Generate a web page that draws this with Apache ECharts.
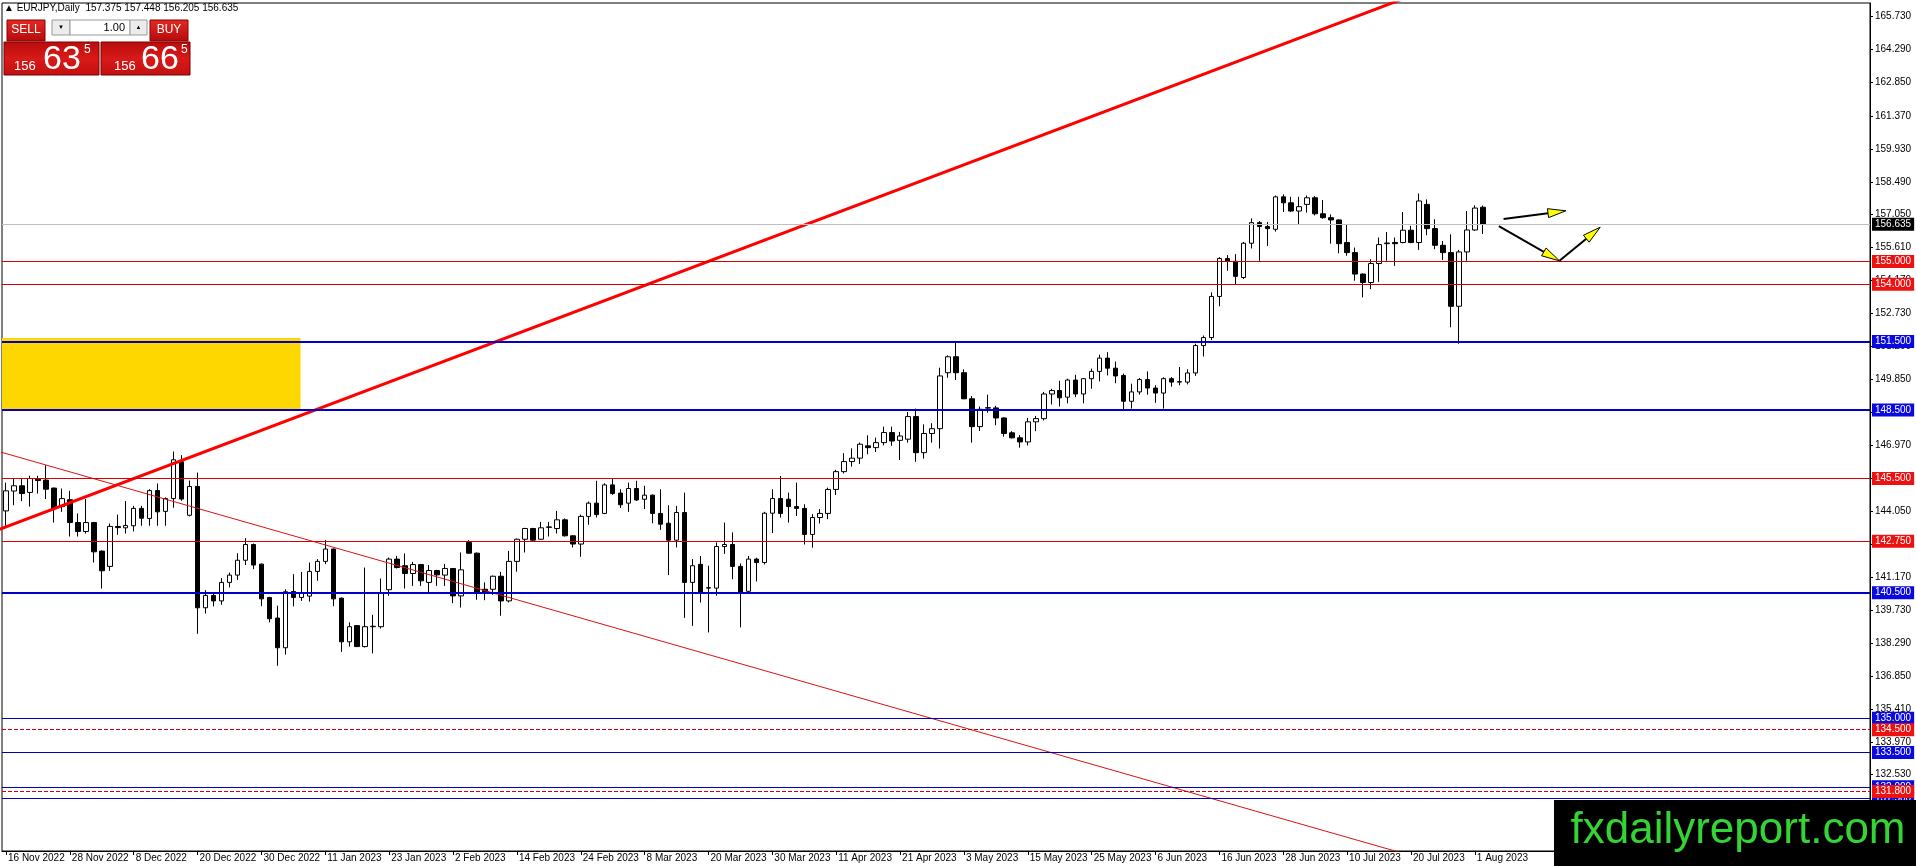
<!DOCTYPE html>
<html lang="en">
<head>
<meta charset="UTF-8">
<title>EURJPY,Daily</title>
<script src="https://cdn.jsdelivr.net/npm/echarts@6/dist/echarts.min.js"></script>
<style>
    html, body { margin: 0; padding: 0; background: #fff; }
    #chartmain { width: 1916px; height: 866px; }
</style>
</head>
<body>
<div id="chartmain"></div>
<script type="text/javascript">

    // daily candles, 16 Nov 2022 .. 2 Aug 2023
    var opens = [144.08,144.95,145.18,144.89,145.47,145.43,145.08,144.27,144.57,143.57,
        143.18,143.57,142.32,141.65,143.40,143.34,143.43,144.19,143.75,144.97,
        144.06,144.62,146.23,143.89,145.15,139.84,140.38,140.14,140.95,141.27,
        141.92,142.61,141.75,140.29,139.39,138.09,140.55,140.29,140.35,141.43,
        141.87,142.41,140.26,138.35,139.06,138.14,139.01,139.01,140.63,141.97,
        141.68,141.34,141.73,140.95,141.47,141.27,141.56,140.36,142.70,142.23,
        140.65,140.65,141.22,140.14,141.87,142.84,143.31,142.84,143.38,143.31,
        143.69,142.99,142.63,143.84,144.42,143.97,145.22,144.86,144.42,145.06,
        144.59,144.77,143.97,143.54,142.80,144.01,140.95,141.74,140.70,140.70,
        142.52,142.61,141.65,140.56,141.97,141.82,143.98,144.62,144.59,144.27,
        144.19,143.05,143.79,143.97,145.02,145.80,146.24,146.39,146.93,146.85,
        147.07,147.51,147.17,147.22,148.21,146.63,147.47,147.68,150.13,150.83,
        150.13,148.99,147.77,148.58,148.59,148.15,147.50,147.28,147.10,147.98,
        148.12,149.20,149.35,149.06,149.81,149.20,149.87,150.19,150.77,150.33,
        150.01,148.88,149.29,149.83,149.46,149.24,149.87,149.72,149.72,150.12,
        151.32,151.67,153.47,155.13,155.01,154.30,155.80,156.70,156.53,156.41,
        157.83,157.57,157.21,157.50,157.79,157.09,156.92,156.82,155.83,155.39,
        154.45,154.08,154.91,155.78,155.83,155.83,156.37,155.83,157.50,156.44,
        155.71,155.39,153.04,155.42,156.38,157.375];
    var highs = [145.32,145.47,145.47,145.62,145.62,146.08,145.10,145.06,144.96,143.97,
        144.60,143.60,142.35,143.53,143.92,144.51,144.30,144.30,145.03,145.28,
        144.67,146.68,146.52,145.41,145.76,140.61,140.47,141.14,141.38,142.23,
        142.89,142.65,141.78,140.32,139.93,140.65,141.31,141.41,141.82,141.97,
        142.80,142.44,140.29,139.20,139.08,141.60,139.53,141.12,142.04,142.11,
        142.22,141.85,141.76,141.71,141.50,141.75,141.58,142.26,142.80,142.26,
        140.95,141.25,141.41,142.33,142.87,143.34,143.34,143.60,143.60,144.08,
        143.75,143.02,143.92,144.49,145.40,145.29,145.47,145.03,145.32,145.40,
        145.18,144.80,145.03,144.33,144.30,144.88,141.97,142.11,141.68,142.70,
        143.57,143.14,141.78,142.11,142.03,144.04,145.03,145.61,144.88,145.32,
        144.37,143.94,144.16,145.10,145.88,146.61,146.82,147.07,147.39,147.29,
        147.77,147.77,147.54,148.41,148.56,147.87,147.92,150.35,150.89,151.52,
        150.28,149.11,148.65,149.17,148.68,148.18,147.57,147.40,148.15,148.24,
        149.29,149.43,149.78,149.87,150.04,149.90,150.31,150.92,151.03,150.62,
        150.09,149.65,149.90,150.19,149.58,149.93,149.94,150.38,150.28,151.40,
        151.76,153.65,155.19,155.28,155.32,155.86,156.89,156.77,156.73,157.89,
        157.94,157.83,157.83,157.89,157.86,157.69,157.06,156.85,156.61,155.61,
        154.48,155.10,156.05,156.29,156.05,157.17,156.56,157.98,157.72,156.85,
        155.90,156.19,155.51,157.21,157.46,157.448];
    var lows = [143.43,144.33,144.51,144.27,144.84,144.60,143.57,144.04,142.96,142.96,
        143.09,141.82,140.68,141.46,143.03,143.09,143.18,143.43,143.43,143.43,
        143.43,144.22,144.52,143.84,138.70,139.59,139.90,139.97,140.73,141.06,
        141.71,141.53,139.91,139.20,137.30,137.79,139.90,140.14,140.11,141.02,
        141.75,139.91,137.91,138.14,138.12,138.10,137.84,138.93,140.36,141.56,
        140.68,140.80,140.80,140.51,140.80,140.80,140.04,139.85,142.20,140.19,
        140.17,140.41,139.49,140.07,141.42,142.26,142.77,142.82,142.96,143.09,
        142.96,142.48,142.07,143.47,143.79,143.94,144.78,144.21,144.04,144.52,
        144.16,143.54,143.25,141.27,142.48,139.40,139.05,140.07,138.76,140.37,
        142.20,141.09,138.98,140.44,140.99,141.74,143.11,143.79,143.57,143.86,
        142.61,142.47,143.53,143.72,144.78,145.72,146.02,146.14,146.56,146.66,
        146.95,146.93,146.31,147.07,146.23,146.37,147.07,146.81,149.91,149.81,
        148.97,147.07,147.58,148.38,147.83,147.33,147.25,146.85,146.95,147.57,
        148.04,148.74,148.65,148.79,149.06,148.79,149.43,149.75,150.01,149.67,
        148.53,148.56,149.17,149.17,148.81,148.56,149.52,149.58,149.62,149.99,
        150.84,151.56,153.04,154.59,154.01,154.23,155.57,155.03,155.68,156.31,
        157.17,157.17,156.63,157.14,157.02,156.87,155.78,155.36,155.25,154.16,
        153.43,153.79,154.11,155.03,154.81,155.80,155.80,155.51,156.15,155.54,
        155.07,152.12,151.40,155.03,156.34,156.205];
    var closes = [144.96,145.18,144.84,145.50,145.41,145.03,144.19,144.62,143.57,143.18,
        143.57,142.29,141.46,143.40,143.35,143.44,144.19,143.76,144.97,144.04,
        144.62,146.32,144.60,145.15,139.84,140.38,140.14,140.95,141.27,141.92,
        142.61,141.71,140.23,139.36,138.09,140.54,140.29,140.47,141.43,141.87,
        142.41,140.23,138.35,139.01,138.14,139.01,139.03,140.47,141.97,141.60,
        141.34,141.73,141.02,141.47,141.28,141.56,140.36,141.50,142.23,140.51,
        140.54,141.22,140.14,141.87,142.84,143.31,142.80,143.34,143.36,143.69,
        142.99,142.63,143.84,144.42,143.92,145.22,144.84,144.35,145.06,144.56,
        144.77,143.97,143.50,142.80,144.01,140.95,141.68,140.51,140.72,142.52,
        142.61,141.65,140.51,141.97,141.82,143.98,144.62,143.97,144.27,144.19,
        143.05,143.79,143.97,145.02,145.80,146.24,146.39,147.00,146.85,147.07,
        147.51,147.14,147.36,148.21,146.63,147.47,147.68,149.99,150.83,150.13,
        148.99,147.77,148.53,148.60,148.15,147.47,147.28,147.10,147.98,148.12,
        149.20,149.35,149.03,149.81,149.20,149.87,150.19,150.77,150.33,149.99,
        148.88,149.29,149.83,149.46,149.24,149.87,149.72,149.74,150.12,151.32,
        151.67,153.47,155.13,155.01,154.35,155.80,156.70,156.53,156.44,157.83,
        157.57,157.21,157.40,157.79,157.09,156.92,156.82,155.78,155.39,154.45,
        154.08,154.91,155.74,155.81,155.78,156.37,155.83,157.65,156.44,155.71,
        155.39,153.04,155.42,156.38,157.34,156.635];

    var dateTicks = ['16 Nov 2022','28 Nov 2022','8 Dec 2022','20 Dec 2022','30 Dec 2022','11 Jan 2023',
        '23 Jan 2023','2 Feb 2023','14 Feb 2023','24 Feb 2023','8 Mar 2023','20 Mar 2023','30 Mar 2023',
        '11 Apr 2023','21 Apr 2023','3 May 2023','15 May 2023','25 May 2023','6 Jun 2023','16 Jun 2023',
        '28 Jun 2023','10 Jul 2023','20 Jul 2023','1 Aug 2023'];
    var tickStep = 8;       // bars between date labels
    var barSlots = 234;     // candles + empty shift on the right

    var priceTicks = [165.73,164.29,162.85,161.37,159.93,158.49,157.05,155.61,154.17,152.73,151.29,
        149.85,148.41,146.97,145.53,144.05,142.61,141.17,139.73,138.29,136.85,135.41,133.97,132.53,131.09];
    var priceMin = 129.19, priceMax = 166.318;

    // horizontal levels: price and style kind
    var levelPrices = [156.635, 155.0, 154.0, 151.5, 148.5, 145.5, 142.75, 140.5, 135.0, 134.5, 133.5, 132.0, 131.5, 131.8];
    var levelKinds  = ['last','red','red','blueBold','blueBold','red','red','blueBold','blue','redDash','blue','blue','blue','redDash'];

    // trend lines as [bar, price] end points
    var trendUp   = [[-5, 142.72], [180, 167.16]];
    var trendDown = [[-5, 147.09], [200, 126.59]];

    // yellow zone [bar from, price low, bar to, price high]
    var zone = [-0.5, 148.5, 36.9, 151.65];

    // arrows [bar from, price from, bar to, price to]
    var arrows = [[187.6, 156.86, 195.4, 157.22], [187.0, 156.55, 194.6, 155.03], [194.6, 155.03, 199.7, 156.50]];

    var levelStyle = {
        last:     {line: '#c0c0c0', width: 1, type: 'solid',  tag: '#000000'},
        red:      {line: '#d40000', width: 1, type: 'solid',  tag: '#ee1111'},
        redDash:  {line: '#d40000', width: 1, type: 'dashed', tag: '#ee1111'},
        blue:     {line: '#0000b4', width: 1, type: 'solid',  tag: '#0a0ae0'},
        blueBold: {line: '#0000c8', width: 2, type: 'solid',  tag: '#0a0ae0'}
    };

    var FONT = '"Liberation Sans", Arial, sans-serif';

    function jiazai() {
        var slots = [];
        for (var s = 0; s < barSlots; s++) slots.push(String(s));

        var candles = [];
        for (var i = 0; i < opens.length; i++) {
            candles.push([opens[i], closes[i], lows[i], highs[i]]);
        }

        var levelLines = [];
        for (var k = 0; k < levelPrices.length; k++) {
            var st = levelStyle[levelKinds[k]];
            levelLines.push({
                yAxis: levelPrices[k],
                lineStyle: {color: st.line, width: st.width, type: st.type},
                label: {
                    show: true, position: 'end', distance: 2,
                    formatter: levelPrices[k].toFixed(3),
                    color: '#fff', backgroundColor: st.tag,
                    padding: [2, 3, 1, 3], fontSize: 10, fontFamily: FONT
                }
            });
        }

        var showTick = function (idx) {
            return idx % tickStep === 0 && idx / tickStep < dateTicks.length;
        };

        var redGrad = {type: 'linear', x: 0, y: 0, x2: 0, y2: 1,
            colorStops: [{offset: 0, color: '#e42a24'}, {offset: 1, color: '#b30b0b'}]};
        var boxGrad = {type: 'linear', x: 0, y: 0, x2: 0, y2: 1,
            colorStops: [{offset: 0, color: '#b80d0d'}, {offset: 0.5, color: '#d81a18'}, {offset: 1, color: '#c21010'}]};

        var option = {
            animation: false,
            backgroundColor: '#fff',
            grid: {left: 2, right: 46, top: 3, bottom: 15, show: true, borderColor: '#000', borderWidth: 1, backgroundColor: '#fff'},
            xAxis: [{
                type: 'category', data: slots, boundaryGap: true,
                axisLine: {onZero: false, lineStyle: {color: '#000', width: 1}},
                axisTick: {show: true, interval: showTick, alignWithLabel: true, length: 4, lineStyle: {color: '#000'}},
                axisLabel: {
                    interval: showTick, align: 'left', margin: 2, padding: [0, 0, 0, 2],
                    color: '#000', fontSize: 10, fontFamily: FONT,
                    formatter: function (v, idx) { return dateTicks[idx / tickStep] || ''; }
                },
                splitLine: {show: false}
            }, {
                type: 'value', min: -0.5, max: barSlots - 0.5, show: false
            }],
            yAxis: {
                type: 'value', position: 'right', min: priceMin, max: priceMax, scale: true,
                axisLine: {show: true, onZero: false, lineStyle: {color: '#000', width: 1}},
                axisTick: {show: true, inside: false, length: 3, customValues: priceTicks, lineStyle: {color: '#000'}},
                axisLabel: {
                    customValues: priceTicks, margin: 5, color: '#000', fontSize: 10, fontFamily: FONT,
                    formatter: function (v) { return v.toFixed(3); }
                },
                splitLine: {show: false}
            },
            series: [{
                // yellow zone
                type: 'line', xAxisIndex: 1, data: [], z: 1, silent: true,
                markArea: {
                    silent: true,
                    itemStyle: {color: '#ffd700', opacity: 1},
                    data: [[{xAxis: zone[0], yAxis: zone[1]}, {xAxis: zone[2], yAxis: zone[3]}]]
                }
            }, {
                type: 'candlestick', name: 'EURJPY', data: candles, barWidth: 5, z: 2, silent: true,
                itemStyle: {color: '#fff', color0: '#000', borderColor: '#000', borderColor0: '#000', borderWidth: 1}
            }, {
                // price levels
                type: 'line', xAxisIndex: 1, data: [], z: 3, silent: true,
                markLine: {silent: true, symbol: ['none', 'none'], animation: false, data: levelLines}
            }, {
                type: 'line', xAxisIndex: 1, data: trendUp, z: 4, silent: true, clip: true,
                symbol: 'none', lineStyle: {color: '#ff0000', width: 3}
            }, {
                type: 'line', xAxisIndex: 1, data: trendDown, z: 4, silent: true, clip: true,
                symbol: 'none', lineStyle: {color: '#dd1111', width: 1}
            }, {
                type: 'custom', xAxisIndex: 1, z: 6, silent: true, data: arrows,
                encode: {x: [0, 2], y: [1, 3]},
                renderItem: function (params, api) {
                    var a = api.coord([api.value(0), api.value(1)]);
                    var b = api.coord([api.value(2), api.value(3)]);
                    var dx = b[0] - a[0], dy = b[1] - a[1];
                    var len = Math.sqrt(dx * dx + dy * dy);
                    var ux = dx / len, uy = dy / len, hl = 18, hw = 4.5;
                    var bx = b[0] - ux * hl, by = b[1] - uy * hl;
                    return {
                        type: 'group',
                        children: [{
                            type: 'line', shape: {x1: a[0], y1: a[1], x2: bx, y2: by},
                            style: {stroke: '#000', lineWidth: 2}
                        }, {
                            type: 'polygon',
                            shape: {points: [[b[0], b[1]], [bx - uy * hw, by + ux * hw], [bx + uy * hw, by - ux * hw]]},
                            style: {fill: '#ffff00', stroke: '#000', lineWidth: 1}
                        }]
                    };
                }
            }],
            graphic: [
                // symbol header
                {type: 'text', left: 4, top: 3, z: 100,
                    style: {text: '\u25B2 EURJPY,Daily  157.375 157.448 156.205 156.635', font: '10px ' + FONT, fill: '#000'}},
                // one click trading panel
                {type: 'rect', z: 100, shape: {x: 7, y: 20, width: 38, height: 21}, style: {fill: redGrad, stroke: '#8c0000'}},
                {type: 'text', z: 101, style: {x: 26, y: 30, text: 'SELL', font: '12px ' + FONT, fill: '#fff', align: 'center', verticalAlign: 'middle'}},
                {type: 'rect', z: 100, shape: {x: 52, y: 20, width: 18, height: 15}, style: {fill: '#ececec', stroke: '#9a9a9a'}},
                {type: 'text', z: 101, style: {x: 61, y: 27, text: '\u25BC', font: '6px ' + FONT, fill: '#000', align: 'center', verticalAlign: 'middle'}},
                {type: 'rect', z: 100, shape: {x: 70, y: 20, width: 60, height: 15}, style: {fill: '#fff', stroke: '#9a9a9a'}},
                {type: 'text', z: 101, style: {x: 125, y: 28, text: '1.00', font: '11px ' + FONT, fill: '#000', align: 'right', verticalAlign: 'middle'}},
                {type: 'rect', z: 100, shape: {x: 130, y: 20, width: 17, height: 15}, style: {fill: '#ececec', stroke: '#9a9a9a'}},
                {type: 'text', z: 101, style: {x: 138.5, y: 27, text: '\u25B2', font: '6px ' + FONT, fill: '#000', align: 'center', verticalAlign: 'middle'}},
                {type: 'rect', z: 100, shape: {x: 150, y: 20, width: 38, height: 21}, style: {fill: redGrad, stroke: '#8c0000'}},
                {type: 'text', z: 101, style: {x: 169, y: 30, text: 'BUY', font: '12px ' + FONT, fill: '#fff', align: 'center', verticalAlign: 'middle'}},
                {type: 'rect', z: 100, shape: {x: 4, y: 42, width: 95, height: 33}, style: {fill: boxGrad, stroke: '#7a0000'}},
                {type: 'rect', z: 100, shape: {x: 101, y: 42, width: 89, height: 33}, style: {fill: boxGrad, stroke: '#7a0000'}},
                {type: 'text', z: 101, style: {x: 14, y: 66, text: '156', font: '13px ' + FONT, fill: '#fff', verticalAlign: 'middle'}},
                {type: 'text', z: 101, style: {x: 43, y: 60, text: '63', font: '34px ' + FONT, fill: '#fff', verticalAlign: 'middle'}},
                {type: 'text', z: 101, style: {x: 84, y: 50, text: '5', font: '12px ' + FONT, fill: '#fff', verticalAlign: 'middle'}},
                {type: 'text', z: 101, style: {x: 114, y: 66, text: '156', font: '13px ' + FONT, fill: '#fff', verticalAlign: 'middle'}},
                {type: 'text', z: 101, style: {x: 141, y: 60, text: '66', font: '34px ' + FONT, fill: '#fff', verticalAlign: 'middle'}},
                {type: 'text', z: 101, style: {x: 181, y: 50, text: '5', font: '12px ' + FONT, fill: '#fff', verticalAlign: 'middle'}},
                // watermark
                {type: 'rect', z: 100, shape: {x: 1554, y: 800, width: 362, height: 66}, style: {fill: '#000'}},
                {type: 'text', z: 101, style: {x: 1738, y: 831, text: 'fxdailyreport.com', font: '44px ' + FONT, fill: '#33d433', align: 'center', verticalAlign: 'middle'}}
            ]
        };

        var myChart = echarts.init(document.getElementById('chartmain'));
        myChart.setOption(option);
    }

    jiazai();

</script>
</body>
</html>
